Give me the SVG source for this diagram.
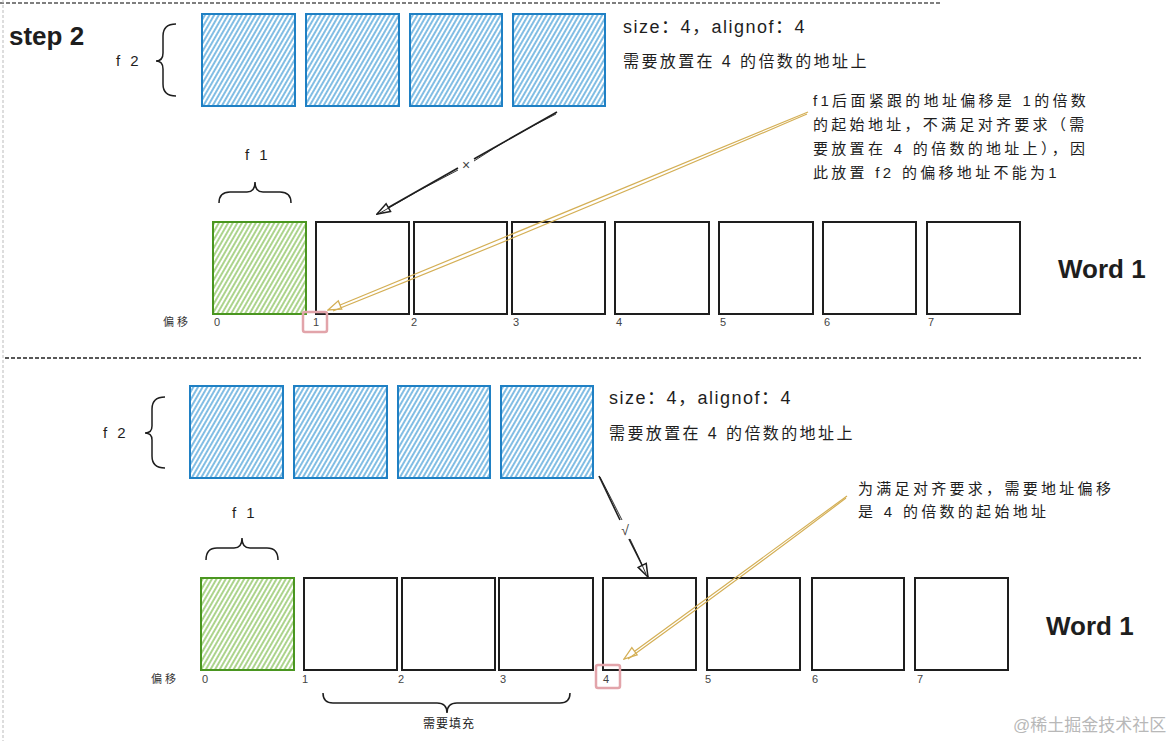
<svg xmlns="http://www.w3.org/2000/svg" width="1176" height="741" viewBox="0 0 1176 741">
<style>
.t{font-family:"Liberation Sans","Noto Sans CJK SC",sans-serif;fill:#1e1e1e}
.step{font-size:26px;font-weight:bold}
.word{font-size:26px;font-weight:bold}
.lbl{font-size:15px;letter-spacing:3px}
.size{font-size:18px;letter-spacing:1.5px}
.req{font-size:16px;letter-spacing:2.4px}
.note{font-size:15px;letter-spacing:3.3px}
.off{font-size:11px;fill:#444}
.offc{font-size:11px;fill:#333;letter-spacing:3px}
.pad{font-size:12px;letter-spacing:1px}
.mark{font-size:14px;fill:#444}
.wm{font-size:17px;fill:#b8b8b8}
.blue{fill:url(#hb);stroke:#1f80c4;stroke-width:2}
.green{fill:url(#hg);stroke:#4a9620;stroke-width:2}
.box{fill:#fff;stroke:#1e1e1e;stroke-width:2}
.brace{fill:none;stroke:#1e1e1e;stroke-width:1.5}
.red{fill:none;stroke:#e2a4aa;stroke-width:2.5}
.ka{fill:none;stroke:#1e1e1e;stroke-width:1.6}
.ka2{fill:none;stroke:#1e1e1e;stroke-width:0.9}
.ya{fill:none;stroke:#d4af55;stroke-width:1.2}
</style>
<defs>
<pattern id="hb" patternUnits="userSpaceOnUse" width="4" height="10" patternTransform="rotate(30)"><line x1="1" y1="0" x2="1" y2="10" stroke="#3d9ad6" stroke-width="1.3"/></pattern>
<pattern id="hg" patternUnits="userSpaceOnUse" width="4" height="10" patternTransform="rotate(30)"><line x1="1" y1="0" x2="1" y2="10" stroke="#7fbd4e" stroke-width="1.3"/></pattern>
<marker id="mk" markerUnits="userSpaceOnUse" markerWidth="16" markerHeight="12" viewBox="0 0 16 12" refX="15" refY="6" orient="auto"><path d="M2,1.5 L15,6 L2,10.5 Z" fill="#fff" stroke="#1e1e1e" stroke-width="1.5"/></marker>
<marker id="my" markerUnits="userSpaceOnUse" markerWidth="16" markerHeight="12" viewBox="0 0 16 12" refX="15" refY="6" orient="auto"><path d="M2,1.5 L15,6 L2,10.5 Z" fill="#fff" stroke="#d4af55" stroke-width="1.3"/></marker>
</defs>
<rect width="1176" height="741" fill="#fff"/>

<g id="frame">
<line x1="0" y1="3" x2="940" y2="3" stroke="#555" stroke-width="1.5" stroke-dasharray="4 2"/>
<line x1="3" y1="0" x2="3" y2="741" stroke="#bbb" stroke-width="1" stroke-dasharray="3 2"/>
<line x1="5" y1="358" x2="1141" y2="358" stroke="#222" stroke-width="1.5" stroke-dasharray="4 2"/>
</g>

<!-- ===== Top section ===== -->
<g id="step-title"><text class="t step" x="9" y="45">step 2</text></g>

<g id="top-f2">
<text class="t lbl" x="116" y="66">f 2</text>
<path class="brace" d="M176,24 Q163,24 163,36 L163,53 Q163,61 156,61 Q163,61 163,69 L163,84 Q163,96 176,96"/>
<rect class="blue" x="202" y="14" width="93" height="92"/>
<rect class="blue" x="306" y="14" width="93" height="92"/>
<rect class="blue" x="410" y="14" width="92" height="92"/>
<rect class="blue" x="513" y="14" width="92" height="92"/>
</g>

<g id="top-f2-info">
<text class="t size" x="623" y="33">size：4，alignof：4</text>
<text class="t req" x="623" y="67">需要放置在 4 的倍数的地址上</text>
</g>

<g id="top-note">
<text class="t note" x="813" y="106">f1后面紧跟的地址偏移是 1的倍数</text>
<text class="t note" x="813" y="130">的起始地址，不满足对齐要求（需</text>
<text class="t note" x="813" y="154">要放置在 4 的倍数的地址上），因</text>
<text class="t note" x="813" y="178">此放置 f2 的偏移地址不能为1</text>
</g>

<g id="top-f1">
<text class="t lbl" x="245" y="160">f 1</text>
<path class="brace" d="M219,203 Q219,192 230,192 L247,192 Q255,192 255,182 Q255,192 263,192 L280,192 Q291,192 291,203"/>
</g>

<g id="top-word">
<rect class="green" x="213" y="222" width="93" height="92"/>
<rect class="box" x="316" y="222" width="93" height="92"/>
<rect class="box" x="414" y="222" width="93" height="92"/>
<rect class="box" x="512" y="222" width="93" height="92"/>
<rect class="box" x="615" y="222" width="94" height="92"/>
<rect class="box" x="719" y="222" width="94" height="92"/>
<rect class="box" x="823" y="222" width="93" height="92"/>
<rect class="box" x="927" y="222" width="93" height="92"/>
<text class="t word" x="1058" y="278">Word 1</text>
</g>

<g id="top-offsets">
<text class="t offc" x="163" y="326">偏移</text>
<text class="t off" x="214" y="326">0</text>
<text class="t off" x="313" y="326">1</text>
<rect class="red" x="303" y="312" width="24" height="20" rx="2"/>
<text class="t off" x="411" y="326">2</text>
<text class="t off" x="513" y="326">3</text>
<text class="t off" x="616" y="326">4</text>
<text class="t off" x="720" y="326">5</text>
<text class="t off" x="824" y="326">6</text>
<text class="t off" x="928" y="326">7</text>
</g>

<!-- ===== Bottom section ===== -->
<g id="bottom-f2">
<text class="t lbl" x="103" y="438">f 2</text>
<path class="brace" d="M165,397 Q152,397 152,409 L152,426 Q152,433 145,433 Q152,433 152,440 L152,456 Q152,468 165,468"/>
<rect class="blue" x="190" y="386" width="93" height="92"/>
<rect class="blue" x="294" y="386" width="93" height="92"/>
<rect class="blue" x="398" y="386" width="92" height="92"/>
<rect class="blue" x="501" y="386" width="92" height="92"/>
</g>

<g id="bottom-f2-info">
<text class="t size" x="609" y="404">size：4，alignof：4</text>
<text class="t req" x="609" y="439">需要放置在 4 的倍数的地址上</text>
</g>

<g id="bottom-note">
<text class="t note" x="858" y="494">为满足对齐要求，需要地址偏移</text>
<text class="t note" x="858" y="517">是 4 的倍数的起始地址</text>
</g>

<g id="bottom-f1">
<text class="t lbl" x="232" y="518">f 1</text>
<path class="brace" d="M206,560 Q206,548 217,548 L234,548 Q242,548 242,538 Q242,548 250,548 L267,548 Q278,548 278,560"/>
</g>

<g id="bottom-word">
<rect class="green" x="201" y="578" width="93" height="92"/>
<rect class="box" x="304" y="578" width="93" height="92"/>
<rect class="box" x="402" y="578" width="93" height="92"/>
<rect class="box" x="499" y="578" width="94" height="92"/>
<rect class="box" x="603" y="578" width="93" height="92"/>
<rect class="box" x="707" y="578" width="93" height="92"/>
<rect class="box" x="812" y="578" width="92" height="92"/>
<rect class="box" x="915" y="578" width="93" height="92"/>
<text class="t word" x="1046" y="635">Word 1</text>
</g>

<g id="bottom-offsets">
<text class="t offc" x="151" y="683">偏移</text>
<text class="t off" x="202" y="683">0</text>
<text class="t off" x="302" y="683">1</text>
<text class="t off" x="398" y="683">2</text>
<text class="t off" x="500" y="683">3</text>
<text class="t off" x="603" y="683">4</text>
<rect class="red" x="596" y="665" width="24" height="23" rx="2"/>
<text class="t off" x="705" y="683">5</text>
<text class="t off" x="812" y="683">6</text>
<text class="t off" x="917" y="683">7</text>
</g>

<g id="padding">
<path class="brace" d="M323,693 Q323,703 333,703 L437,703 Q447,703 447,713 Q447,703 457,703 L560,703 Q570,703 570,693"/>
<text class="t pad" x="423" y="728">需要填充</text>
</g>

<g id="watermark"><text class="t wm" x="1013" y="731">@稀土掘金技术社区</text></g>

<!-- ===== Connectors ===== -->
<g id="connectors">
<line class="ka" x1="557" y1="112" x2="474" y2="159"/>
<path class="ka2" d="M556,114 Q515,134 474,161"/>
<text class="t mark" x="466" y="170" text-anchor="middle">×</text>
<line class="ka" x1="458" y1="168" x2="377" y2="214" marker-end="url(#mk)"/>
<path class="ka2" d="M458,170 Q418,190 380,213"/>

<line class="ya" x1="808" y1="112" x2="328" y2="310" marker-end="url(#my)"/>
<path class="ya" d="M807,114 Q570,216 333,311"/>

<line class="ka" x1="599" y1="476" x2="620" y2="520"/>
<path class="ka2" d="M600,477 Q611,498 622,520"/>
<text class="t mark" x="625" y="535" text-anchor="middle">√</text>
<line class="ka" x1="629" y1="539" x2="648" y2="577" marker-end="url(#mk)"/>
<path class="ka2" d="M630,539 Q639,557 646,574"/>

<line class="ya" x1="847" y1="496" x2="624" y2="659" marker-end="url(#my)"/>
<path class="ya" d="M846,498 Q738,580 628,659"/>
</g>
</svg>
